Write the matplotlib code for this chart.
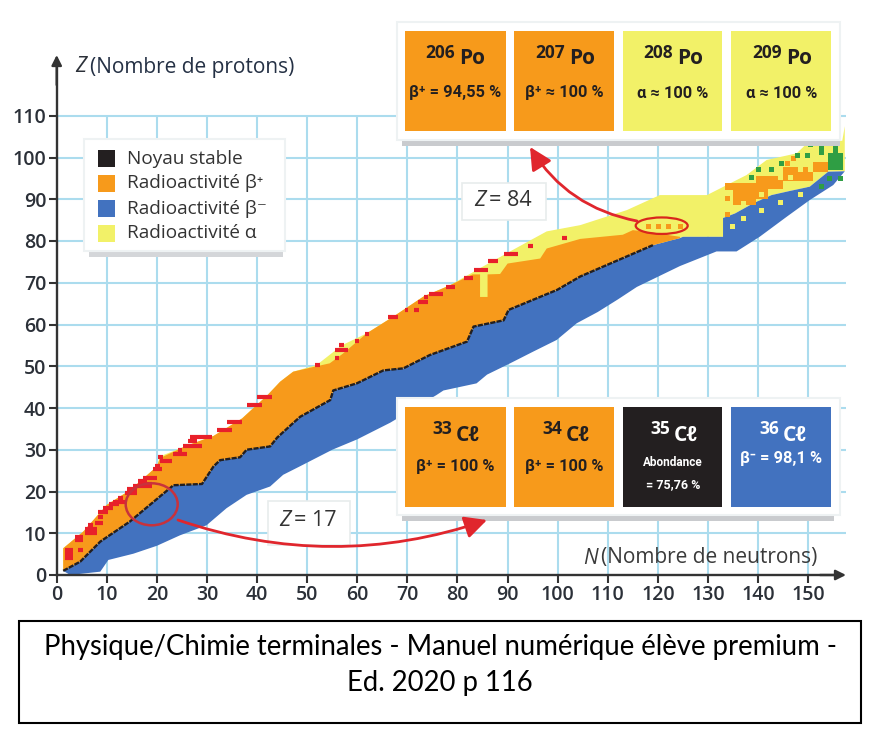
import numpy as np
import matplotlib
matplotlib.use("Agg")
import matplotlib.pyplot as plt
from matplotlib.patches import Rectangle, Ellipse, FancyArrowPatch

# ---------- colours
C_BLACK, C_ORANGE, C_BLUE, C_YELLOW = "#231f20", "#f79a1b", "#4272bf", "#f2f168"
C_RED, C_GREEN, C_GRID, C_TXT = "#e8202a", "#2f9e44", "#abdcee", "#2b3038"
SANS = ["Open Sans", "DejaVu Sans"]
COND = ["Roboto", "DejaVu Sans"]

# ---------- data (N, Z edges)
top_n = [1.3, 5.3, 10, 14.6, 20, 20.6, 26, 31.3, 37, 42, 44.6, 47.2, 51.9, 56.9, 61.9, 67.2, 73.2, 78.5,
         84.5, 91.1, 97.8, 104.5, 113.8, 120.4, 129.8, 137.7, 141.7, 147.7, 150.3, 156.8, 157.3, 157.3]
top_z = [6.4, 10.4, 16.8, 20.3, 26, 28.4, 31, 33.3, 37.5, 43, 46.3, 48.7, 50.3, 55, 57.9, 61.9, 66.7, 69.4,
         73.5, 77.9, 82.3, 83.8, 87.4, 91, 91, 95.8, 99.4, 101, 104, 104, 107.5, 97]

orange_n = [1.3, 5.3, 10, 14.6, 20, 20.6, 26, 31.3, 37, 42, 44.6, 47.2, 51.9, 54.5, 57.1, 61.9, 67.2, 73.2,
            78.5, 83, 84.5, 84.5, 86, 86, 88.5, 90, 96.5, 97.8, 104.5, 113, 115, 118, 124.4]
orange_z = [6.4, 10.4, 16.8, 20.3, 26, 28, 31, 33.3, 37.5, 43, 46.3, 48.7, 50, 50.7, 53, 57.9, 61.9, 66.7,
            69.4, 72, 72, 66.6, 66.6, 72, 72.1, 74.6, 75.8, 78.2, 80.5, 81.5, 82.6, 82.2, 81]

stable_n = [1.3, 4.7, 8.7, 14.6, 22.6, 23.3, 29, 31.3, 32.6, 36.6, 37.9, 42.6, 44, 47.2, 48.6, 54.6, 55.2,
            59.9, 65.2, 69.2, 74.5, 81.9, 83.2, 89.2, 90.2, 99.9, 104.5, 119]
stable_z = [1, 3.2, 8, 12.8, 20.8, 21.5, 21.8, 26, 27.5, 28.2, 30, 30.8, 32.9, 36.4, 37.9, 41.9, 44.2,
            45.9, 49, 49.5, 52.7, 55.9, 59.5, 61, 63.5, 68.3, 71.5, 79]

blue_top_n = [124.4, 125, 133, 133, 135.4, 139, 142.7, 146.4, 150.3, 154, 157.3]
blue_top_z = [80.7, 81, 81, 85.5, 86.6, 89, 91, 92, 93, 96.6, 96.7]

bottom_n = [2.7, 8.7, 10.3, 15.3, 20, 24.6, 29.9, 33.9, 37.9, 42.6, 45.2, 48.5, 55, 60, 66.6, 75.8, 77.2, 83.8,
            85.9, 90.5, 95.1, 99.8, 103.8, 108, 112, 115.8, 124.4, 131.7, 135.7, 140.3, 145.7, 150.3, 155, 157.3]
bottom_z = [0, 0.8, 3.6, 5.1, 7, 9.5, 11.9, 16, 19.2, 21.2, 24, 26, 30, 32.5, 36.5, 43.1, 44.2, 45.9,
            48, 50.7, 53.5, 56.3, 60.3, 63, 66, 69, 74, 77.5, 77.5, 81, 85.8, 89.8, 93.4, 96.7]

# cells in the heavy region: N start, N end, Z start, Z end
patch_n0 = [133.4, 135, 139.5, 142, 145, 151]
patch_n1 = [135, 139.5, 142, 145, 151, 154]
patch_z0 = [92.2, 88.6, 90, 92.5, 94.3, 96.5]
patch_z1 = [93.8, 93.8, 95.5, 95.5, 97.8, 99]

orange_dot_n = [133.7, 133.7, 145.7, 147, 118.1, 120.1, 122.1, 124.4]
orange_dot_z = [90.2, 86.5, 98.6, 99.8, 83.7, 83.7, 83.7, 83.7]
yellow_dot_n = [136.9, 140.6, 144.4, 146.4, 148.4, 150.4, 134.7, 136.9, 140.6, 144.4, 148.4]
yellow_dot_z = [89.2, 91.3, 95.4, 95.4, 97.2, 97.2, 83.7, 85.4, 87.4, 89.3, 91.3]
green_dot_n = [138.6, 140, 142.5, 144.6, 147.7, 149.7, 150.4, 152.5, 152.5, 154.2, 156.3, 152.5]
green_dot_z = [95.4, 97.2, 97.2, 98.8, 100.6, 100.6, 103.2, 102.6, 101.3, 95, 95, 93.2]
green_block_n = [154, 155, 156]
green_block_z0 = [97, 97, 97]
green_block_z1 = [101, 103, 101]

red_n0 = [1.7, 1.7, 1.7, 3.7, 3.7, 4.3, 5.7, 5.7, 6.3, 7.7, 8.3, 8.3, 9.3, 10.5, 11.3, 12.3, 13.6, 14, 14.3, 15.3, 16.3, 16.3,
          17.3, 19.3, 19.6, 20.6, 20.3, 23.3, 24.3, 25.3, 26.6, 26.3, 32, 34, 38, 40, 51.6, 55.5, 56.4, 55.5, 59.5,
          61.5, 66.2, 69.5, 71.4, 72.2, 73.3, 74.4, 77.8, 81.2, 83.2, 86, 89.3, 94, 100.8]
red_n1 = [3.3, 3.3, 3.3, 5.3, 5.3, 5.3, 8, 8, 7.3, 9.3, 9.3, 10.3, 11.3, 12.5, 13.6, 13.3, 16, 16, 15, 19, 18, 19,
          20, 21, 20.6, 23, 21.3, 26, 25, 29, 31, 28, 35, 37, 41, 43, 52.6, 58.2, 57.4, 56.4, 60.4,
          62.4, 68.2, 70.2, 72.3, 74.2, 74.2, 77.2, 79.5, 83, 86, 88, 92, 95, 101.8]
red_z = [6, 5, 4, 8.4, 9, 6, 10, 11, 12, 12.4, 14, 15, 16, 17, 17.6, 18.4, 19.6, 20.5, 20.4, 21.3, 22.4, 21.9,
         23.3, 25.3, 26.1, 27.3, 28.2, 29.1, 30, 31, 33, 32, 34.7, 36.7, 40.6, 42.6, 50.3, 53.9, 55, 52, 56,
         57.7, 61.7, 63.5, 63.5, 65.5, 66.5, 67.3, 69, 71.1, 73, 75.1, 77, 78.8, 80.6]

x_ticks = list(range(0, 151, 10))
y_ticks = list(range(0, 111, 10))
legend_labels = ["Noyau stable", "Radioactivité β⁺", "Radioactivité β⁻", "Radioactivité α"]
legend_colors = [C_BLACK, C_ORANGE, C_BLUE, C_YELLOW]

po_mass = ["206", "207", "208", "209"]
po_text = ["β⁺ = 94,55 %", "β⁺ ≈ 100 %", "α ≈ 100 %", "α ≈ 100 %"]
po_colors = [C_ORANGE, C_ORANGE, C_YELLOW, C_YELLOW]
cl_mass = ["33", "34", "35", "36"]
cl_text = ["β⁺ = 100 %", "β⁺ = 100 %", "", "β⁻ = 98,1 %"]
cl_colors = [C_ORANGE, C_ORANGE, C_BLACK, C_BLUE]

caption = ["Physique/Chimie terminales - Manuel numérique élève premium -", "Ed. 2020 p 116"]

# ---------- figure
W, H = 882, 742
fig = plt.figure(figsize=(W / 100, H / 100), dpi=100, facecolor="white")
X0, PX, Y0, PY = 56.7, 5.01, 575.0, 4.175
RIGHT, TOP = 852.0, 50.0
ax = fig.add_axes([X0 / W, 1 - Y0 / H, (RIGHT - X0) / W, (Y0 - TOP) / H])
ax.set_xlim(0, (RIGHT - X0) / PX)
ax.set_ylim(0, (Y0 - TOP) / PY)
ax.patch.set_alpha(0)

ax.hlines(y_ticks[1:], 0, 157.5, color=C_GRID, lw=1.5, zorder=1)
ax.vlines(x_ticks[1:], 0, 110, color=C_GRID, lw=1.5, zorder=1)

# nuclide bands
all_top_n = stable_n + blue_top_n
all_top_z = stable_z + blue_top_z
ax.fill(top_n + all_top_n[::-1], top_z + all_top_z[::-1], color=C_YELLOW, lw=0, zorder=2)
ax.fill(all_top_n + bottom_n[::-1], all_top_z + bottom_z[::-1], color=C_BLUE, lw=0, zorder=3)
o_low_n = stable_n + blue_top_n[:1]
o_low_z = stable_z + blue_top_z[:1]
ax.fill(orange_n + o_low_n[::-1], orange_z + o_low_z[::-1], color=C_ORANGE, lw=0, zorder=3)

for a, b, c, d in zip(patch_n0, patch_n1, patch_z0, patch_z1):
    ax.fill_between([a, b], c, d, color=C_ORANGE, lw=0, zorder=4)
for n, a, b in zip(green_block_n, green_block_z0, green_block_z1):
    ax.fill_between([n, n + 1], a, b, color=C_GREEN, lw=0, zorder=4)
ax.plot(orange_dot_n, orange_dot_z, "s", ms=3.6, color=C_ORANGE, mew=0, zorder=5)
ax.plot(yellow_dot_n, yellow_dot_z, "s", ms=3.6, color=C_YELLOW, mew=0, zorder=5)
ax.plot(green_dot_n, green_dot_z, "s", ms=3.6, color=C_GREEN, mew=0, zorder=5)
ax.hlines(red_z, red_n0, red_n1, color=C_RED, lw=3.0, zorder=5)
ax.plot(stable_n, stable_z, color=C_BLACK, lw=1.7, zorder=6, ls=(0, (2.2, 0.5)))

# axes
for s in ("top", "right"):
    ax.spines[s].set_visible(False)
for s in ("left", "bottom"):
    ax.spines[s].set_color("#333333")
    ax.spines[s].set_linewidth(1.7)
    ax.spines[s].set_zorder(7)
ax.spines["bottom"].set_bounds(0, 155)
ax.spines["left"].set_bounds(0, 122)
ax.set_xticks(x_ticks)
ax.set_yticks(y_ticks)
ax.tick_params(axis="both", color="#333333", width=1.5, length=6, labelsize=14, labelcolor=C_TXT, pad=1.5)
for lab in ax.get_xticklabels() + ax.get_yticklabels():
    lab.set_family(SANS)
    lab.set_fontweight(600)

# ---------- overlay in pixels
ov = fig.add_axes([0, 0, 1, 1], zorder=10)
ov.set_xlim(0, W)
ov.set_ylim(H, 0)
ov.axis("off")


def rect(x0, y0, x1, y1, fc, ec="none", lw=0, z=10):
    ov.add_patch(Rectangle((x0, y0), x1 - x0, y1 - y0, fc=fc, ec=ec, lw=lw, zorder=z))


def txt(x, y, s, size, color=C_TXT, weight="normal", ha="center", style="normal", fam=SANS, z=14):
    ov.text(x, y, s, fontsize=size, color=color, fontweight=weight, ha=ha, va="center",
            style=style, family=fam, zorder=z)


# axis arrows
ov.add_patch(FancyArrowPatch((X0, 85), (X0, 55), arrowstyle="-|>", mutation_scale=15, color="#333333", lw=1.7, zorder=9, shrinkA=0, shrinkB=0))
ov.add_patch(FancyArrowPatch((820, Y0), (846, Y0), arrowstyle="-|>", mutation_scale=15, color="#333333", lw=1.7, zorder=9, shrinkA=0, shrinkB=0))
txt(75, 67, "Z", 15, ha="left", style="italic")
txt(90, 67, "(Nombre de protons)", 15, ha="left", color="#243044")
txt(583, 558, "N", 15, ha="left", style="italic", color="#3a3a3a")
txt(601, 558, "(Nombre de neutrons)", 15, ha="left", color="#3a3a3a")

# legend panel
rect(89, 250, 283, 257, "#d4d6d9")
rect(84, 139, 285, 251, "white", ec="#eef2f3", lw=1.5)
for i, (lab, col) in enumerate(zip(legend_labels, legend_colors)):
    yy = 158.5 + 25 * i
    rect(98, yy - 8.5, 115, yy + 8.5, col, z=12)
    txt(127, yy, lab, 13.7, ha="left", color="#333333")

# isotope panels
cell_x = [(405.3, 505.7), (514, 614), (622.7, 722), (731.3, 831.3)]
mass_x = [440, 550, 658, 767]
rect(402, 140, 840, 146, "#c9cbce")
rect(397, 22, 840, 140, "white", ec="#eef2f3", lw=1.5)
for (a, b), col, m, t, mx in zip(cell_x, po_colors, po_mass, po_text, mass_x):
    rect(a, 30.7, b, 131, col, z=12)
    txt(mx, 53, m, 12.5, weight="bold", color=C_BLACK)
    txt(mx + 32, 58, "Po", 15, weight="bold", color=C_BLACK)
    txt((a + b) / 2, 93, t, 11.8, weight="bold", color=C_BLACK, fam=COND)

rect(402, 515, 834, 521, "#c9cbce")
rect(397, 398, 840, 515, "white", ec="#eef2f3", lw=1.5)
for (a, b), col, m, t, mx in zip(cell_x, cl_colors, cl_mass, cl_text, mass_x):
    rect(a, 406.7, b, 507.3, col, z=12)
    fg = "white" if col != C_ORANGE else C_BLACK
    txt(mx + 2, 429, m, 12.5, weight="bold", color=fg)
    txt(mx + 28, 435, "Cℓ", 15, weight="bold", color=fg)
    yy = 459 if col == C_BLUE else 467
    if t:
        txt((a + b) / 2, yy, t, 11.8, weight="bold", color=fg, fam=COND)
txt(673, 462, "Abondance", 8.5, weight="bold", color="white", fam=COND)
txt(673, 485, "= 75,76 %", 9, weight="bold", color="white", fam=COND)

# Z labels
rect(462, 183, 546, 220, "white", ec="#e8ecec", lw=1.2)
txt(474, 200, "Z", 15.5, ha="left", style="italic", color="#333333")
txt(489, 200, "= 84", 15.5, ha="left", color="#333333")
rect(268, 501, 350, 545, "white", ec="#e8ecec", lw=1.2)
txt(279, 520, "Z", 15.5, ha="left", style="italic", color="#333333")
txt(294, 520, "= 17", 15.5, ha="left", color="#333333")

# highlights and arrows
ov.add_patch(Ellipse((151.7, 504.3), 52, 42, fc="none", ec="#c8323c", lw=1.8, zorder=13))
ov.add_patch(Ellipse((661.7, 225.7), 52, 16.5, fc="none", ec="#d9261c", lw=1.6, zorder=13))
ov.add_patch(FancyArrowPatch((178, 520), (487, 520), connectionstyle="arc3,rad=0.17",
                             arrowstyle="-|>,head_length=0.9,head_width=0.45", mutation_scale=15,
                             color="#e0262d", lw=2.0, zorder=13, shrinkA=0, shrinkB=0))
ov.add_patch(FancyArrowPatch((637, 221), (530, 147), connectionstyle="arc3,rad=-0.22",
                             arrowstyle="-|>,head_length=0.9,head_width=0.45", mutation_scale=15,
                             color="#e0262d", lw=2.0, zorder=13, shrinkA=0, shrinkB=0))

# caption
rect(18.5, 620.5, 861, 723, "white", ec="black", lw=1.5, z=15)
txt(440, 647, caption[0], 19.8, color="black", fam=["Lato", "DejaVu Sans"], z=16)
txt(440, 683, caption[1], 19.8, color="black", fam=["Lato", "DejaVu Sans"], z=16)

fig.savefig("out.png", dpi=100)
